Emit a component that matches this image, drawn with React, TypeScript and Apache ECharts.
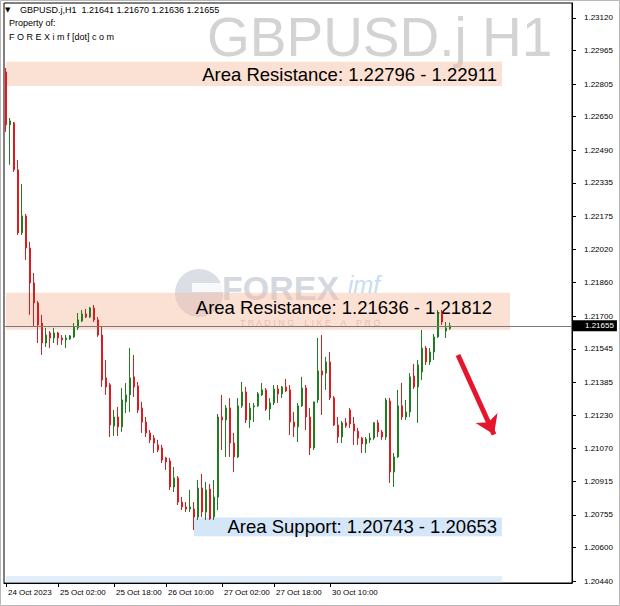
import React, { useEffect, useRef } from "react";
import * as echarts from "echarts";

const symbolTitle = "GBPUSD.j,H1";
const watermarkText = "GBPUSD.j H1";

// hourly candles (open, high, low, close)
const opens = [
  1.22863, 1.22611, 1.22621, 1.22397, 1.22097, 1.22178, 1.22025, 1.21859, 1.21764, 1.21668,
  1.21573, 1.21621, 1.21597, 1.21621, 1.21597, 1.21588, 1.21592, 1.21602, 1.21645, 1.21678,
  1.21711, 1.21697, 1.21740, 1.21683, 1.21611, 1.21407, 1.21374, 1.21178, 1.21221, 1.21174,
  1.21293, 1.21326, 1.21412, 1.21369, 1.21264, 1.21197, 1.21145, 1.21121, 1.21088, 1.21074,
  1.21026, 1.21012, 1.20888, 1.20931, 1.20816, 1.20793, 1.20783, 1.20783, 1.20745, 1.20883,
  1.20769, 1.20878, 1.20745, 1.20840, 1.21221, 1.21207, 1.21264, 1.21097, 1.21031, 1.21274,
  1.21340, 1.21207, 1.21269, 1.21274, 1.21326, 1.21350, 1.21259, 1.21288, 1.21354, 1.21331,
  1.21364, 1.21350, 1.21197, 1.21174, 1.21274, 1.21359, 1.21221, 1.21074, 1.21302, 1.21440,
  1.21430, 1.21483, 1.21312, 1.21183, 1.21126, 1.21193, 1.21254, 1.21188, 1.21154, 1.21121,
  1.21093, 1.21112, 1.21121, 1.21193, 1.21150, 1.21126, 1.21297, 1.20959, 1.21031, 1.21274,
  1.21221, 1.21245, 1.21416, 1.21364, 1.21435, 1.21549, 1.21483, 1.21530, 1.21602, 1.21716,
  1.21630, 1.21641,
];
const highs = [
  1.22882, 1.22644, 1.22625, 1.22444, 1.22330, 1.22187, 1.22054, 1.21906, 1.21773, 1.21707,
  1.21645, 1.21630, 1.21645, 1.21626, 1.21611, 1.21611, 1.21611, 1.21668, 1.21716, 1.21730,
  1.21735, 1.21745, 1.21754, 1.21697, 1.21650, 1.21492, 1.21383, 1.21254, 1.21269, 1.21359,
  1.21383, 1.21549, 1.21516, 1.21388, 1.21293, 1.21221, 1.21159, 1.21135, 1.21112, 1.21088,
  1.21031, 1.21026, 1.20983, 1.20940, 1.20840, 1.20816, 1.20874, 1.20816, 1.20921, 1.20950,
  1.20912, 1.20902, 1.20921, 1.21235, 1.21326, 1.21278, 1.21311, 1.21145, 1.21311, 1.21388,
  1.21364, 1.21288, 1.21288, 1.21340, 1.21383, 1.21359, 1.21311, 1.21373, 1.21373, 1.21369,
  1.21402, 1.21373, 1.21245, 1.21288, 1.21412, 1.21373, 1.21264, 1.21293, 1.21597, 1.21611,
  1.21507, 1.21530, 1.21321, 1.21221, 1.21202, 1.21216, 1.21264, 1.21221, 1.21169, 1.21126,
  1.21126, 1.21145, 1.21197, 1.21207, 1.21159, 1.21312, 1.21312, 1.21050, 1.21350, 1.21383,
  1.21302, 1.21430, 1.21473, 1.21492, 1.21635, 1.21559, 1.21549, 1.21616, 1.21730, 1.21730,
  1.21673, 1.21670,
];
const lows = [
  1.22578, 1.22421, 1.22387, 1.22087, 1.22087, 1.21968, 1.21707, 1.21650, 1.21573, 1.21516,
  1.21554, 1.21549, 1.21573, 1.21564, 1.21564, 1.21549, 1.21588, 1.21597, 1.21635, 1.21673,
  1.21692, 1.21692, 1.21673, 1.21602, 1.21364, 1.21326, 1.21126, 1.21131, 1.21131, 1.21150,
  1.21240, 1.21245, 1.21316, 1.21240, 1.21145, 1.21126, 1.21097, 1.21050, 1.21054, 1.21002,
  1.20969, 1.20874, 1.20864, 1.20802, 1.20778, 1.20769, 1.20769, 1.20683, 1.20731, 1.20745,
  1.20731, 1.20731, 1.20731, 1.20778, 1.21064, 1.21031, 1.21031, 1.20959, 1.21026, 1.21264,
  1.21192, 1.21169, 1.21197, 1.21269, 1.21321, 1.21250, 1.21207, 1.21278, 1.21288, 1.21311,
  1.21340, 1.21135, 1.21126, 1.21102, 1.21269, 1.21159, 1.21040, 1.21064, 1.21288, 1.21231,
  1.21350, 1.21302, 1.21178, 1.21097, 1.21097, 1.21169, 1.21169, 1.21088, 1.21088, 1.21050,
  1.21050, 1.21097, 1.21112, 1.21126, 1.21112, 1.21112, 1.20907, 1.20888, 1.21026, 1.21207,
  1.21207, 1.21221, 1.21354, 1.21193, 1.21397, 1.21469, 1.21469, 1.21492, 1.21597, 1.21659,
  1.21597, 1.21636,
];
const closes = [
  1.22611, 1.22630, 1.22397, 1.22097, 1.22178, 1.22025, 1.21859, 1.21764, 1.21659, 1.21573,
  1.21611, 1.21597, 1.21621, 1.21597, 1.21588, 1.21597, 1.21607, 1.21650, 1.21683, 1.21711,
  1.21697, 1.21740, 1.21683, 1.21611, 1.21397, 1.21364, 1.21183, 1.21221, 1.21174, 1.21302,
  1.21326, 1.21407, 1.21364, 1.21254, 1.21197, 1.21145, 1.21112, 1.21097, 1.21064, 1.21016,
  1.21007, 1.20888, 1.20931, 1.20816, 1.20793, 1.20783, 1.20793, 1.20745, 1.20883, 1.20769,
  1.20874, 1.20736, 1.20840, 1.21221, 1.21207, 1.21264, 1.21097, 1.21031, 1.21274, 1.21340,
  1.21207, 1.21264, 1.21274, 1.21331, 1.21350, 1.21259, 1.21288, 1.21354, 1.21331, 1.21364,
  1.21345, 1.21197, 1.21174, 1.21274, 1.21359, 1.21221, 1.21074, 1.21293, 1.21440, 1.21421,
  1.21483, 1.21312, 1.21183, 1.21126, 1.21193, 1.21178, 1.21188, 1.21154, 1.21121, 1.21093,
  1.21116, 1.21121, 1.21193, 1.21150, 1.21126, 1.21302, 1.20959, 1.21031, 1.21274, 1.21221,
  1.21245, 1.21412, 1.21364, 1.21469, 1.21549, 1.21483, 1.21530, 1.21602, 1.21716, 1.21673,
  1.21645, 1.21655,
];

const slotCount = 142; // bar slots across the chart width (candles + empty right margin)

const priceTicks = [
  1.2312, 1.22965, 1.22805, 1.2265, 1.2249, 1.22335, 1.22175, 1.2202, 1.2186,
  1.217, 1.21545, 1.21385, 1.2123, 1.2107, 1.20915, 1.20755, 1.206, 1.2044,
];
const priceMin = 1.20431;
const priceMax = 1.23191;

const timeLabels = ["24 Oct 2023", "25 Oct 02:00", "25 Oct 18:00", "26 Oct 10:00", "27 Oct 02:00", "27 Oct 18:00", "30 Oct 10:00"];
const timeLabelSlots = [0, 13, 27, 40, 54, 67, 81];

const resistanceTop = [1.22796, 1.22911];
const resistanceNear = [1.21636, 1.21812];
const supportZone = [1.20743, 1.20653];
const lowerZone = [1.20464, 1.20431];
const currentPrice = 1.21655;

// arrow annotation (slot, price)
const arrowStart = [113, 1.21516];
const arrowEnd = [122, 1.21138];

const FONT = "'Liberation Sans', Arial, sans-serif";

export default function App() {
  const ref = useRef<HTMLDivElement>(null);

  useEffect(() => {
    if (!ref.current) return;
    const chart = echarts.init(ref.current, undefined, { renderer: "svg" });

    const categories = Array.from({ length: slotCount }, (_, i) => String(i));
    const candles = opens.map((o, i) => [o, closes[i], lows[i], highs[i]]);
    const labelMap: Record<number, string> = {};
    timeLabelSlots.forEach((s, k) => (labelMap[s] = timeLabels[k]));
    const last = opens.length - 1;
    const headerLine = `${symbolTitle}  ${opens[last].toFixed(5)} ${highs[last].toFixed(5)} ${lows[last].toFixed(5)} ${closes[last].toFixed(5)}`;

    const zoneName = (title: string, a: number, b: number) => `${title}: ${a.toFixed(5)} - ${b.toFixed(5)}`;

    const bandLabel = (dist: number, dy: number) => ({
      show: true,
      position: "insideRight",
      distance: dist,
      offset: [0, dy],
      color: "#000",
      fontSize: 18.5,
      fontFamily: FONT,
    });

    const PINK = "rgba(246, 186, 160, 0.45)";
    const BLUE = "rgba(160, 200, 240, 0.45)";

    chart.setOption({
      animation: false,
      backgroundColor: "#fff",
      grid: {
        left: 4,
        right: 48,
        top: 3,
        bottom: 23,
        show: true,
        borderColor: "#000",
        borderWidth: 1,
        backgroundColor: "transparent",
      },
      xAxis: {
        type: "category",
        data: categories,
        boundaryGap: true,
        axisLine: { show: true, lineStyle: { color: "#000", width: 1 } },
        axisTick: {
          show: true,
          alignWithLabel: true,
          length: 4,
          interval: (idx: number) => timeLabelSlots.includes(idx),
          lineStyle: { color: "#000" },
        },
        axisLabel: {
          interval: (idx: number) => timeLabelSlots.includes(idx),
          formatter: (_v: string, idx: number) => labelMap[idx] ?? "",
          align: "left",
          padding: [0, 0, 0, 2],
          margin: 5,
          fontSize: 8,
          color: "#000",
          fontFamily: FONT,
        },
        splitLine: { show: false },
      },
      yAxis: {
        type: "value",
        position: "right",
        min: priceMin,
        max: priceMax,
        scale: true,
        splitLine: { show: false },
        axisLine: { show: true, lineStyle: { color: "#000" } },
        axisTick: {
          show: true,
          length: 4,
          customValues: priceTicks,
          lineStyle: { color: "#000" },
        },
        axisLabel: {
          customValues: priceTicks,
          formatter: (v: number) => v.toFixed(5),
          fontSize: 8,
          color: "#000",
          margin: 12,
          fontFamily: FONT,
        },
      },
      graphic: {
        elements: [
          {
            type: "rect",
            shape: { x: 0.5, y: 0.5, width: 619, height: 605 },
            style: { fill: "none", stroke: "#b8b8b8", lineWidth: 1 },
            z: 0,
            silent: true,
          },
          {
            type: "text",
            x: 207,
            y: 37,
            style: {
              text: watermarkText,
              fill: "#d3d3d3",
              fontSize: 55,
              fontFamily: FONT,
              verticalAlign: "middle",
            },
            z: 0,
            silent: true,
          },
          {
            type: "circle",
            shape: { cx: 199, cy: 293, r: 24 },
            style: { fill: "#dcdee5" },
            z: 0,
            silent: true,
          },
          {
            type: "rect",
            shape: { x: 192, y: 283, width: 32, height: 9 },
            style: { fill: "#fff", opacity: 0.8 },
            z: 0,
            silent: true,
          },
          {
            type: "text",
            x: 222,
            y: 288,
            style: {
              text: "FOREX",
              fill: "#d6d8df",
              fontSize: 34,
              fontWeight: "bold",
              fontFamily: FONT,
              verticalAlign: "middle",
            },
            z: 0,
            silent: true,
          },
          {
            type: "text",
            x: 348,
            y: 284,
            style: {
              text: "imf",
              fill: "#c8ddf1",
              fontSize: 24,
              fontStyle: "italic",
              fontFamily: FONT,
              verticalAlign: "middle",
            },
            z: 0,
            silent: true,
          },
          {
            type: "text",
            x: 240,
            y: 323,
            style: {
              text: "T R A D I N G    L I K E    A    P R O",
              fill: "#e2c4b8",
              fontSize: 9,
              fontFamily: FONT,
              verticalAlign: "middle",
            },
            z: 0,
            silent: true,
          },
          {
            type: "text",
            x: 5,
            y: 10,
            style: {
              text: "▼",
              fill: "#000",
              fontSize: 7,
              fontFamily: "'DejaVu Sans', sans-serif",
              verticalAlign: "middle",
            },
            z: 10,
            silent: true,
          },
          {
            type: "text",
            x: 20,
            y: 10,
            style: {
              text: headerLine,
              fill: "#000",
              fontSize: 9,
              fontFamily: FONT,
              verticalAlign: "middle",
            },
            z: 10,
            silent: true,
          },
          {
            type: "text",
            x: 9,
            y: 23,
            style: {
              text: "Property of:",
              fill: "#000",
              fontSize: 9,
              fontFamily: FONT,
              verticalAlign: "middle",
            },
            z: 10,
            silent: true,
          },
          {
            type: "text",
            x: 9,
            y: 37,
            style: {
              text: "F O R E X i m f [dot] c o m",
              fill: "#000",
              fontSize: 9,
              fontFamily: FONT,
              verticalAlign: "middle",
            },
            z: 10,
            silent: true,
          },
        ],
      },
      series: [
        {
          type: "candlestick",
          data: candles,
          barWidth: 2,
          itemStyle: {
            color: "#1e7d1e",
            color0: "#e0191f",
            borderColor: "#1e7d1e",
            borderColor0: "#e0191f",
            borderWidth: 1,
          },
          markArea: {
            silent: true,
            z: 1,
            data: [
              [
                {
                  name: zoneName("Area Resistance", resistanceTop[0], resistanceTop[1]),
                  xAxis: "0",
                  yAxis: resistanceTop[1],
                  itemStyle: { color: PINK },
                  label: bandLabel(5, 1),
                },
                { xAxis: "124", yAxis: resistanceTop[0] },
              ],
              [
                {
                  name: zoneName("Area Resistance", resistanceNear[0], resistanceNear[1]),
                  xAxis: "0",
                  yAxis: resistanceNear[1],
                  itemStyle: { color: PINK },
                  label: bandLabel(18, -4),
                },
                { xAxis: "126", yAxis: resistanceNear[0] },
              ],
              [
                {
                  name: zoneName("Area Support", supportZone[0], supportZone[1]),
                  xAxis: "47",
                  yAxis: supportZone[0],
                  itemStyle: { color: BLUE },
                  label: bandLabel(5, 0),
                },
                { xAxis: "124", yAxis: supportZone[1] },
              ],
              [
                { name: "", xAxis: "0", yAxis: lowerZone[0], itemStyle: { color: "rgba(170, 205, 240, 0.35)" }, label: { show: false } },
                { xAxis: "124", yAxis: lowerZone[1] },
              ],
            ],
          },
          markLine: {
            silent: true,
            symbol: ["none", "none"],
            precision: 5,
            animation: false,
            data: [
              {
                yAxis: currentPrice,
                lineStyle: { color: "#7a7a7a", width: 1, type: "solid" },
                label: {
                  show: true,
                  position: "end",
                  distance: 0,
                  formatter: () => currentPrice.toFixed(5),
                  backgroundColor: "#000",
                  color: "#fff",
                  fontSize: 8,
                  fontFamily: FONT,
                  padding: [2, 3, 1, 13],
                },
              },
              [
                {
                  coord: [String(arrowStart[0]), arrowStart[1]],
                  symbol: "none",
                  lineStyle: { color: "#e5162c", width: 5, type: "solid" },
                  label: { show: false },
                },
                {
                  coord: [String(arrowEnd[0]), arrowEnd[1]],
                  symbol: "arrow",
                  symbolSize: [18, 18],
                },
              ],
            ],
          },
        },
      ],
    });

    return () => chart.dispose();
  }, []);

  return (
    <div style={{ position: "absolute", left: 0, top: 0, width: 620, height: 606, background: "#fff" }}>
      <div ref={ref} style={{ width: 620, height: 606 }} />
    </div>
  );
}
